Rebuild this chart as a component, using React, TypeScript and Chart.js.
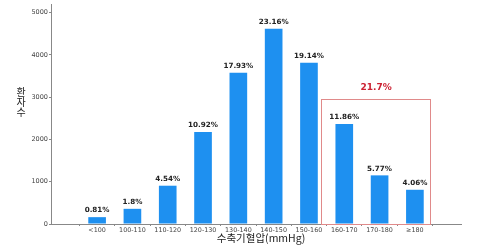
import React, { useEffect, useRef } from 'react';
import { Chart, registerables } from 'chart.js';
Chart.register(...registerables);

const categories = ['<100', '100-110', '110-120', '120-130', '130-140', '140-150', '150-160', '160-170', '170-180', '≥180'];
const patients = [162, 359, 906, 2179, 3577, 4620, 3818, 2366, 1151, 810];
const percentLabels = ['0.81%', '1.8%', '4.54%', '10.92%', '17.93%', '23.16%', '19.14%', '11.86%', '5.77%', '4.06%'];
const yTicks = [0, 1000, 2000, 3000, 4000, 5000];
const highlightLabel = '21.7%';
const highlightFrom = 6.35;
const highlightTo = 9.45;
const highlightTop = 2950;
const highlightLabelValue = 3220;
const xTitle = '수축기혈압(mmHg)';
const yTitle = ['환', '자', '수'];

const overlayPlugin = {
  id: 'overlay',
  afterDatasetsDraw(chart: any) {
    const ctx = chart.ctx;
    const xs = chart.scales.x;
    const ys = chart.scales.y;
    const area = chart.chartArea;
    ctx.save();
    // value labels
    const meta = chart.getDatasetMeta(0);
    ctx.fillStyle = '#222';
    ctx.font = 'bold 7.2px "DejaVu Sans"';
    ctx.textAlign = 'center';
    ctx.textBaseline = 'bottom';
    meta.data.forEach((bar: any, i: number) => {
      ctx.fillText(percentLabels[i], bar.x, bar.y - 3);
    });
    // highlight box
    const x0 = xs.getPixelForValue(highlightFrom);
    const x1 = xs.getPixelForValue(highlightTo);
    const y0 = ys.getPixelForValue(highlightTop);
    const y1 = ys.getPixelForValue(0);
    ctx.strokeStyle = '#e08a8a';
    ctx.lineWidth = 1;
    ctx.strokeRect(Math.round(x0) + 0.5, Math.round(y0) + 0.5, Math.round(x1 - x0), Math.round(y1 - y0));
    ctx.fillStyle = '#cc2233';
    ctx.font = 'bold 9px "DejaVu Sans"';
    ctx.textBaseline = 'middle';
    ctx.fillText(highlightLabel, (x0 + x1) / 2, ys.getPixelForValue(highlightLabelValue));
    // axis titles
    ctx.fillStyle = '#222';
    ctx.font = '10.5px "Noto Sans CJK KR"';
    ctx.textBaseline = 'middle';
    ctx.fillText(xTitle, (area.left + area.right) / 2 + 5, chart.height - 7);
    ctx.font = '10px "Noto Sans CJK KR"';
    const cy = (area.top + area.bottom) / 2 - 12;
    yTitle.forEach((ch, i) => {
      ctx.fillText(ch, area.left - 30, cy + (i - 1) * 10);
    });
    ctx.restore();
  },
};

export default function App() {
  const ref = useRef<HTMLCanvasElement | null>(null);
  useEffect(() => {
    if (!ref.current) return;
    const chart = new Chart(ref.current, {
      type: 'bar',
      data: {
        datasets: [
          {
            data: categories.map((_, i) => ({ x: i, y: patients[i] })),
            backgroundColor: '#1e90f0',
            barPercentage: 0.5,
            categoryPercentage: 1,
          },
        ],
      },
      options: {
        animation: false,
        responsive: false,
        layout: { padding: { left: 0, right: 19, top: 0, bottom: 0 } },
        plugins: { legend: { display: false }, tooltip: { enabled: false } },
        scales: {
          x: {
            type: 'linear',
            min: -0.725,
            max: 9.725,
            grid: { display: true, drawOnChartArea: false, drawTicks: true, tickLength: 2, color: '#888' },
            border: { color: '#888', width: 1 },
            ticks: {
              font: { family: 'DejaVu Sans', size: 6.4 },
              color: '#444',
              padding: 1,
              maxRotation: 0,
              autoSkip: false,
              callback: (v: any) => categories[v],
            },
            afterBuildTicks: (s: any) => {
              s.ticks = categories.map((_, i) => ({ value: i }));
            },
            afterFit: (s: any) => {
              s.height = 21;
            },
          },
          y: {
            min: 0,
            max: 5185,
            grid: { display: true, drawOnChartArea: false, drawTicks: true, tickLength: 2, color: '#888' },
            border: { color: '#888', width: 1 },
            ticks: {
              font: { family: 'DejaVu Sans', size: 6.5 },
              color: '#444',
              padding: 1,
              callback: (v: any) => String(v),
            },
            afterBuildTicks: (s: any) => {
              s.ticks = yTicks.map((v) => ({ value: v }));
            },
            afterFit: (s: any) => {
              s.width = 51;
            },
          },
        },
      },
      plugins: [overlayPlugin],
    } as any);
    return () => chart.destroy();
  }, []);
  return (
    <div style={{ position: 'absolute', left: 0, top: 0, width: 480, height: 245, background: '#fff' }}>
      <canvas ref={ref} width={480} height={245} />
    </div>
  );
}
